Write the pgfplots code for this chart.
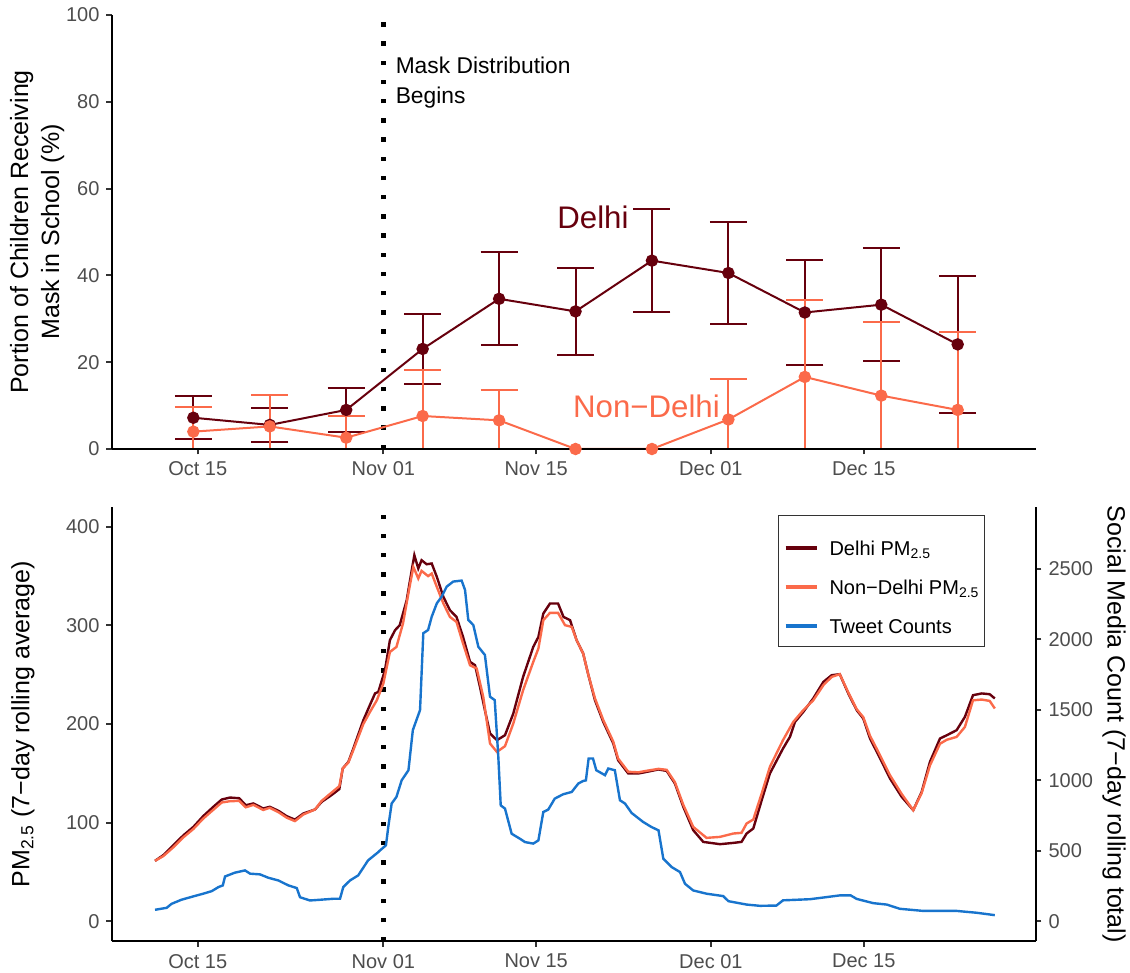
\documentclass[border=0pt]{standalone}
\usepackage{fontspec}
\setmainfont{Liberation Sans}
\usepackage{pgfplots}
\usepackage{pgfplotstable}
\pgfplotsset{compat=1.18}
\definecolor{dk}{RGB}{103,0,13}
\definecolor{lt}{RGB}{251,106,74}
\definecolor{bl}{RGB}{24,116,205}
\definecolor{g30}{RGB}{77,77,77}
\definecolor{g20}{RGB}{51,51,51}

\pgfplotstableread{
d v e
13.6 7.2 4.9
20.6 5.55 3.85
27.6 9.0 5.1
34.6 23.05 8.15
41.6 34.6 10.7
48.6 31.7 10.1
55.6 43.4 11.8
62.6 40.55 11.65
69.6 31.45 12.15
76.6 33.25 13.05
83.6 24.1 15.8
}\delhi
\pgfplotstableread{
d v e
13.6 4.0 5.6
20.6 5.2 7.2
27.6 2.6 5.1
34.6 7.6 10.5
41.6 6.6 7.0
48.6 0 0
55.6 0 0
62.6 6.8 9.4
69.6 16.6 17.8
76.6 12.3 16.9
83.6 9.0 17.9
}\nondelhi

\pgfplotsset{
 myaxis/.style={
   scale only axis, width=462pt,
   xmin=6.15, xmax=90.77,
   axis line style={line width=1pt, black},
   tick align=outside, major tick length=2.75pt,
   tick style={line width=1pt, color=g20},
   xtick={14,31,45,61,75},
   xticklabels={Oct 15,Nov 01,Nov 15,Dec 01,Dec 15},
   ticklabel style={font=\fontsize{10}{12}\selectfont, color=g30},
   /pgf/number format/assume math mode=true,
   /pgf/number format/1000 sep={},
   label style={font=\fontsize{12.5}{15.5}\selectfont},
 },
 dotline/.style={black, line width=2.2pt, dash pattern=on 2.2pt off 7.4pt, forget plot},
}

\begin{document}
\begin{tikzpicture}
\path[use as bounding box] (0,0) rectangle (565pt,486.5pt);

% ---------------- top panel
\begin{axis}[myaxis, at={(56pt,262pt)}, anchor=south west, height=217pt,
  ymin=0, ymax=100, ytick={0,20,...,100},
  axis x line*=bottom, axis y line*=left, axis on top,
  ylabel={Portion of Children Receiving\\Mask in School (\%)},
  ylabel style={align=center, at={(axis description cs:-0.081,0.5)}, anchor=center}]
\addplot[dotline] coordinates {(31,0) (31,100)};
\addplot[dk, only marks, mark=none, forget plot, error bars/.cd, y dir=both, y explicit,
  error bar style={line width=1pt, dk}, error mark options={rotate=90, mark size=9.25pt, line width=1pt, dk}]
  table[x=d, y=v, y error=e] {\delhi};
\addplot[lt, only marks, mark=none, forget plot, error bars/.cd, y dir=both, y explicit,
  error bar style={line width=1pt, lt}, error mark options={rotate=90, mark size=9.25pt, line width=1pt, lt}]
  table[x=d, y=v, y error=e] {\nondelhi};
\addplot[dk, line width=1pt, mark=*, mark size=2.6pt, mark options={solid, fill=dk}] table[x=d, y=v] {\delhi};
\addplot[lt, line width=1pt, mark=*, mark size=2.6pt, mark options={solid, fill=lt}] table[x=d, y=v] {\nondelhi};
\node[dk, font=\fontsize{15.6}{18}\selectfont, anchor=center, inner sep=0pt] at (axis cs:50.2,53.4) {Delhi};
\node[lt, font=\fontsize{15.6}{18}\selectfont, anchor=center, inner sep=0pt] at (axis cs:55.1,9.8) {Non−Delhi};
\node[black, font=\fontsize{11.4}{13}\selectfont, anchor=base west, inner sep=0pt] at (axis cs:32.1,86.6) {Mask Distribution};
\node[black, font=\fontsize{11.4}{13}\selectfont, anchor=base west, inner sep=0pt] at (axis cs:32.1,79.6) {Begins};
\end{axis}

% ---------------- bottom panel, left axis
\begin{axis}[myaxis, at={(56pt,15.75pt)}, anchor=south west, height=217.25pt,
  ymin=-20.6, ymax=420.1, ytick={0,100,...,400},
  axis x line*=bottom, axis y line*=left,
  ylabel={PM\textsubscript{2.5} (7−day rolling average)},
  ylabel style={at={(axis description cs:-0.0963,0.5)}, anchor=center}]
\addplot[dotline] coordinates {(31,-20.6) (31,420.1)};
\addplot[dk, line width=1.2pt] table[x=d, y=v] {
d v
10.09 61.2
10.85 67
11.77 77
12.68 87
13.6 95.6
14.5 106.5
15.43 116
16.2 123.4
16.96 125.4
17.8 124.7
18.4 117.6
19.1 119.4
20.0 114.3
20.6 116
21.4 111.9
22.15 106.5
22.9 103
23.67 109.2
24.74 113.3
25.35 121
26.27 128
26.97 134
27.28 154.9
27.8 161.6
28.25 175.1
29.17 203.9
29.78 219.5
30.24 231
30.54 232.6
31.15 254.6
31.6 285
32.07 295.1
32.5 300.2
33.14 325.6
33.6 356
33.84 371.2
34.2 357.7
34.5 366.1
34.97 362
35.43 362.8
35.9 349.2
36.5 328.9
37.1 315.4
37.7 308.6
38.3 288.3
38.94 263
39.4 259.6
39.85 237.6
40.3 214
40.77 190.4
41.4 183.6
42.14 188.6
42.9 210.6
43.8 247.8
44.73 278.2
45.2 288.3
45.65 312
46.26 322.2
47.0 322.2
47.5 308.6
48.1 305.3
48.7 285
49.3 271.5
49.77 250
50.38 224.1
51.14 202.1
52.06 180.2
52.5 163.3
53.43 149.8
54.35 149.8
55.1 151.4
56.2 153.9
56.95 152.4
57.7 139.7
58.47 116
59.38 92.3
60.3 80.4
61.83 78.1
63.05 79.4
63.8 80.4
64.27 88.9
64.88 94.0
65.65 122.7
66.4 149.8
67.6 175.1
68.24 187
68.7 202.1
69.46 212.3
70.37 225.9
71.3 242.7
72.06 249.5
72.8 250.5
73.58 231
74.35 214
74.95 205.6
75.57 185.3
76.5 165
77.4 144.7
78.47 126.1
79.53 112.6
80.3 131.1
81.06 161.6
81.98 185.3
82.6 188.6
83.5 193.7
84.26 207.2
85.0 229.2
85.8 231
86.53 230.2
87.0 225.9
};
\addplot[lt, line width=1.2pt] table[x=d, y=v] {
d v
10.09 61.2
10.85 66
11.77 75
12.68 85
13.6 93.5
14.5 104
15.43 113
16.2 120.4
16.96 121.7
17.8 122
18.4 115.5
19.1 118
20.0 112.8
20.6 115
21.4 110.5
22.15 105
22.9 101.5
23.67 108.2
24.74 113.3
25.35 122
26.27 130.5
26.97 137
27.28 154.9
27.8 161
28.25 173.5
29.17 200
29.78 212.3
30.4 224
31.0 241
31.6 273
32.2 278.2
32.8 302
33.4 339
33.75 359.3
34.2 347.6
34.5 355.3
35.1 350
35.43 352.6
35.9 339
36.5 322.2
37.1 308.6
37.7 303.5
38.3 281.6
38.94 259.6
39.55 256.3
40.15 227.5
40.77 180.2
41.4 171.7
42.14 177.5
42.9 200.5
43.8 234.3
44.73 263
45.2 276.6
45.65 305.3
46.26 312.7
47.0 312.7
47.64 300.2
48.25 298.5
48.7 285
49.3 271.5
49.77 250
50.38 226
51.14 204
52.06 182
52.5 165
53.43 151.5
54.35 151
55.1 152.5
56.2 154.5
56.95 153.5
57.7 141
58.47 118
59.38 95.6
60.6 84.5
61.83 85.5
63.05 88.9
63.8 89.6
64.27 99.1
64.88 103.1
65.65 129.5
66.4 156.5
67.6 183.6
68.54 202.1
69.46 214
70.37 224
71.3 239.4
72.06 247.8
72.8 250.5
73.58 232
74.35 215
74.95 207
75.57 188
76.5 168
77.4 148
78.47 129
79.53 112.6
80.3 130
81.06 158
81.98 180
82.6 184
83.5 186.9
84.26 197
85.0 224
85.8 224.8
86.53 223.4
87.0 215.7
};
\end{axis}

% ---------------- bottom panel, right axis (tweets)
\begin{axis}[myaxis, at={(56pt,15.75pt)}, anchor=south west, height=217.25pt,
  ymin=-141.7, ymax=2937.6, ytick={0,500,...,2500},
  axis x line=none, axis y line*=right,
  ylabel={Social Media Count (7−day rolling total)},
  ylabel style={at={(axis description cs:1.0844,0.5)}, anchor=center, rotate=180},
  legend style={at={(axis description cs:0.7208,0.9816)}, anchor=north west,
    draw=g20, line width=0.5pt, fill=white, font=\fontsize{10}{12}\selectfont,
    row sep=0pt, inner xsep=2.5pt, inner ysep=3.5pt,
    cells={anchor=base west},
    nodes={inner xsep=0pt, inner ysep=0pt, text height=16.5pt, text depth=3pt}},
  legend image code/.code={\draw[#1, line width=2pt] (0pt,3.5pt) -- (15.5pt,3.5pt); \path[draw=none] (0pt,3.5pt) -- (22pt,3.5pt);}]
\addlegendimage{dk}
\addlegendentry{Delhi PM\textsubscript{2.5}}
\addlegendimage{lt}
\addlegendentry{Non−Delhi PM\textsubscript{2.5}}
\addplot[bl, line width=1.2pt] table[x=d, y=c] {
d c
10.09 83
11.16 97
11.6 125
12.5 154
13.6 178
14.5 197
15.28 215
15.9 244
16.3 256
16.5 319
17.4 346
18.33 362
18.8 339
19.7 334
20.47 310
21.38 291
22.3 256
23.07 237
23.37 172
24.28 149
25.2 154
26.4 161
27.03 161
27.33 244
27.95 291
28.7 327
29.6 433
30.54 492
30.7 504
31.24 540
31.45 669
31.76 836
32.2 883
32.68 1001
33.3 1072
33.7 1356
34.36 1498
34.66 2043
35.1 2066
35.43 2160
35.9 2255
36.34 2302
36.8 2373
37.4 2409
38.17 2416
38.48 2350
38.78 2137
39.24 2101
39.7 1947
40.3 1889
40.77 1593
41.2 1569
41.53 1166
41.75 823
42.14 800
42.75 622
43.5 587
43.97 563
44.73 552
45.2 575
45.65 776
46.1 793
46.7 871
47.48 902
48.25 918
48.86 978
49.3 996
49.55 1000
49.8 1155
50.2 1155
50.5 1072
51.3 1037
51.6 1084
52.2 1072
52.67 859
53.13 836
53.74 769
54.8 705
55.57 669
56.2 646
56.64 445
57.4 386
58.17 350
58.63 267
59.38 220
60.6 197
62.13 180
62.6 144
64.27 120
65.5 111
67.0 113
67.6 150
69.15 155
70.07 158
71.3 170
72.8 185
73.8 185
74.35 160
75.87 130
77.1 120
78.3 90
80.45 75
83.5 75
85.33 62
87.0 45
};
\addlegendentry{Tweet Counts}
\end{axis}
\end{tikzpicture}
\end{document}
